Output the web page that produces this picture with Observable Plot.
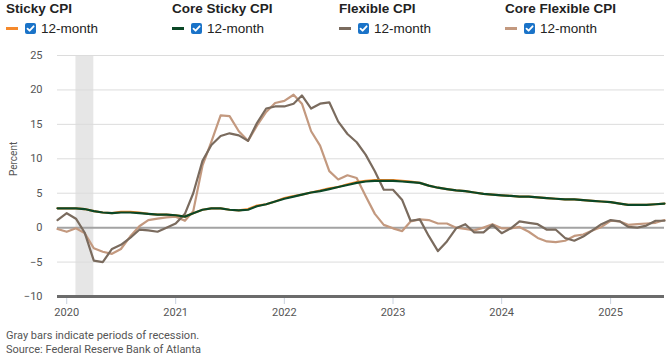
<!DOCTYPE html>
<html>
<head>
<meta charset="utf-8">
<script src="https://cdn.jsdelivr.net/npm/d3@7"></script>
<script src="https://cdn.jsdelivr.net/npm/@observablehq/plot@0.6"></script>
<style>
  html, body { margin: 0; padding: 0; background: #fff; }
  body { width: 668px; height: 356px; overflow: hidden; font-family: "Liberation Sans", Arial, sans-serif; }
  #legend { position: relative; height: 45px; }
  .item { position: absolute; top: 0; }
  .ttl { position: absolute; top: 1px; left: 0; white-space: nowrap; font-weight: bold; font-size: 13.5px; color: #222; }
  .row { position: absolute; top: 21px; left: 0; white-space: nowrap; display: flex; align-items: center; font-size: 13.5px; color: #222; }
  .sw { display: inline-block; width: 12px; height: 3px; margin-right: 7px; }
  .cb { display: inline-block; width: 11px; height: 11px; border-radius: 2px; background: #1a73c8; margin-right: 5px; position: relative; }
  .cb svg { position: absolute; left: 0; top: 0; }
  #chart svg { display: block; }
  .cap { font-family: "Liberation Sans Narrow", "Roboto", sans-serif; font-size: 11px; color: #555; line-height: 14px; padding-left: 6px; white-space: nowrap; }
</style>
</head>
<body>
<div id="legend"></div>
<div id="chart"></div>
<div class="cap" style="margin-top:2px">Gray bars indicate periods of recession.</div>
<div class="cap">Source: Federal Reserve Bank of Atlanta</div>
<script>
// Monthly, Dec 2019 .. Jul 2025
const startMonth = "2019-12";
const stickyCPI = [2.8,2.8,2.8,2.7,2.4,2.2,2.1,2.3,2.3,2.2,2.0,1.9,1.9,1.8,1.6,2.1,2.6,2.8,2.8,2.6,2.5,2.7,3.2,3.4,3.8,4.3,4.6,4.8,5.1,5.4,5.7,5.9,6.3,6.6,6.8,6.9,6.9,6.9,6.8,6.7,6.5,6.1,5.8,5.6,5.4,5.3,5.1,4.9,4.8,4.7,4.6,4.5,4.5,4.4,4.3,4.2,4.1,4.1,4.0,3.9,3.8,3.7,3.5,3.3,3.3,3.3,3.4,3.5];
const coreStickyCPI = [2.8,2.8,2.8,2.7,2.4,2.2,2.1,2.2,2.2,2.1,2.0,1.9,1.9,1.8,1.6,2.1,2.6,2.8,2.8,2.6,2.5,2.6,3.1,3.4,3.8,4.2,4.5,4.8,5.1,5.3,5.6,5.9,6.2,6.5,6.7,6.8,6.8,6.8,6.7,6.6,6.5,6.1,5.8,5.6,5.4,5.3,5.1,4.9,4.8,4.7,4.6,4.5,4.5,4.4,4.3,4.2,4.1,4.1,4.0,3.9,3.8,3.7,3.5,3.3,3.3,3.3,3.4,3.5];
const flexibleCPI = [1.1,2.1,1.3,-0.7,-4.8,-5.0,-3.1,-2.5,-1.5,-0.3,-0.4,-0.6,0.0,0.6,2.0,5.0,9.7,12.0,13.3,13.7,13.4,12.6,15.2,17.3,17.6,17.6,18.0,19.2,17.3,18.0,18.2,15.4,13.6,12.4,10.6,8.2,5.5,5.5,4.0,1.0,1.2,-1.2,-3.4,-2.0,-0.1,0.5,-0.7,-0.7,0.4,-0.8,-0.1,0.9,0.7,0.5,-0.3,-0.3,-1.5,-1.9,-1.3,-0.4,0.5,1.1,0.9,0.1,0.0,0.3,1.0,1.0];
const coreFlexibleCPI = [-0.2,-0.6,-0.1,-0.8,-3.0,-3.5,-3.8,-3.1,-1.3,0.2,1.1,1.3,1.5,1.6,1.0,2.4,9.0,12.5,16.3,16.2,14.0,12.6,14.8,16.8,18.1,18.4,19.3,18.0,14.0,11.9,8.2,7.0,7.6,7.2,4.6,2.0,0.4,-0.1,-0.5,0.9,1.2,1.1,0.6,0.6,0.0,-0.2,-0.4,0.0,0.5,-0.1,-0.1,0.1,-0.6,-1.5,-2.0,-2.1,-1.9,-1.2,-1.0,-0.4,0.1,1.0,0.9,0.4,0.5,0.6,0.7,1.1];
const seriesNames = ["Sticky CPI", "Core Sticky CPI", "Flexible CPI", "Core Flexible CPI"];
const seriesColors = ["#f5892b", "#0b4726", "#7a6b5e", "#c3997f"];
const legendLabel = "12-month";
const recessions = [{start: "2020-02-01", end: "2020-04-01"}];
const yTicks = [-10, -5, 0, 5, 10, 15, 20, 25];
const xTickYears = [2020, 2021, 2022, 2023, 2024, 2025];
const yLabel = "Percent";

const t0 = d3.utcParse("%Y-%m")(startMonth);
const allSeries = [stickyCPI, coreStickyCPI, flexibleCPI, coreFlexibleCPI];
const rows = [];
allSeries.forEach((arr, s) => arr.forEach((v, i) => rows.push({series: seriesNames[s], date: d3.utcMonth.offset(t0, i), value: v})));
const lastDate = d3.utcMonth.offset(t0, stickyCPI.length - 1);
const rec = recessions.map(r => ({start: new Date(r.start), end: new Date(r.end)}));

// legend
const legend = document.getElementById("legend");
const colX = [6, 172, 339, 505];
seriesNames.forEach((n, i) => {
  const d = document.createElement("div");
  d.className = "item";
  d.style.left = colX[i] + "px";
  d.innerHTML = `<div class="ttl">${n}</div><div class="row"><span class="sw" style="background:${seriesColors[i]}"></span><span class="cb"><svg width="11" height="11" viewBox="0 0 11 11"><path d="M2.5 5.6 L4.6 7.7 L8.6 3.3" fill="none" stroke="#fff" stroke-width="1.8" stroke-linecap="round" stroke-linejoin="round"/></svg></span><span>${legendLabel}</span></div>`;
  legend.appendChild(d);
});

const tickFont = `"Liberation Sans Narrow", "Roboto", sans-serif`;
const order = ["Core Flexible CPI", "Flexible CPI", "Sticky CPI", "Core Sticky CPI"];
const chart = Plot.plot({
  width: 668,
  height: 282,
  marginLeft: 57,
  marginRight: 4,
  marginTop: 10,
  marginBottom: 31,
  style: {fontFamily: tickFont, fontSize: "11px", color: "#555", background: "#fff"},
  x: {type: "utc", domain: [t0, lastDate]},
  y: {domain: [-10, 25]},
  color: {domain: seriesNames, range: seriesColors},
  marks: [
    Plot.rectX(rec, {x1: "start", x2: "end", y1: -10, y2: 25, fill: "#e6e6e6"}),
    Plot.gridY(yTicks, {stroke: "#dcdcdc", strokeOpacity: 1, strokeWidth: 1}),
    Plot.ruleY([0], {stroke: "#a3a3a3", strokeWidth: 2}),
    Plot.axisY(yTicks, {tickSize: 0, tickPadding: 15, fontSize: 11, fill: "#555", label: null}),
    Plot.text([yLabel], {frameAnchor: "left", dx: -44, rotate: -90, fontSize: 10, fill: "#555", text: d => d}),
    Plot.axisX(xTickYears.map(y => new Date(Date.UTC(y, 0, 1))), {tickSize: 8, tickPadding: 4, tickFormat: d3.utcFormat("%Y"), stroke: "#c9d2df", fill: "#555", fontSize: 11, label: null}),
    ...order.map(n => Plot.line(rows.filter(r => r.series === n), {x: "date", y: "value", stroke: seriesColors[seriesNames.indexOf(n)], strokeWidth: 2.2})),
    Plot.ruleY([-10], {stroke: "#6b6b6b", strokeWidth: 3})
  ]
});
document.getElementById("chart").appendChild(chart);
</script>
</body>
</html>
